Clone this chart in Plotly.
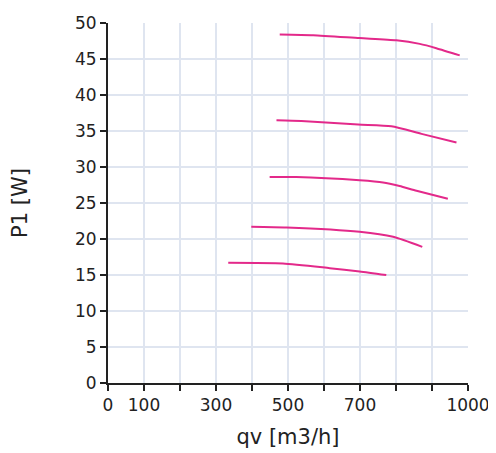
import plotly.graph_objects as go

# Curves (qv [m3/h], P1 [W])
c1_x = [477, 570, 699, 801, 866, 912, 977]
c1_y = [48.4, 48.3, 47.9, 47.6, 47.1, 46.5, 45.5]
c2_x = [468, 537, 695, 787, 871, 968]
c2_y = [36.5, 36.4, 35.9, 35.65, 34.6, 33.4]
c3_x = [449, 523, 699, 764, 810, 857, 944]
c3_y = [28.6, 28.6, 28.15, 27.85, 27.35, 26.7, 25.6]
c4_x = [398, 496, 699, 792, 873]
c4_y = [21.7, 21.6, 21.0, 20.3, 18.9]
c5_x = [334, 486, 616, 699, 773]
c5_y = [16.7, 16.6, 15.95, 15.5, 15.0]

x_tickvals = [0, 100, 200, 300, 400, 500, 600, 700, 800, 900, 1000]
x_ticktext = ["0", "100", "", "300", "", "500", "", "700", "", "", "1000"]
y_tickvals = [0, 5, 10, 15, 20, 25, 30, 35, 40, 45, 50]

color = "#e3298a"
fig = go.Figure()
for xs, ys in [(c1_x, c1_y), (c2_x, c2_y), (c3_x, c3_y), (c4_x, c4_y), (c5_x, c5_y)]:
    fig.add_trace(go.Scatter(x=xs, y=ys, mode="lines",
                             line=dict(color=color, width=2, shape="spline", smoothing=0.6),
                             showlegend=False, hoverinfo="skip"))

tick_font = dict(family="DejaVu Sans, sans-serif", size=17, color="#222222")
title_font = dict(family="DejaVu Sans, sans-serif", size=21, color="#222222")
fig.update_layout(
    width=496, height=453,
    margin=dict(l=100, r=36, t=15, b=78),
    paper_bgcolor="white", plot_bgcolor="white",
    font=tick_font,
    xaxis=dict(range=[0, 1000], tickvals=x_tickvals, ticktext=x_ticktext,
               tickfont=tick_font,
               showgrid=True, gridcolor="#dfe5f0", gridwidth=1.5,
               showline=True, linecolor="#222222", linewidth=2,
               ticks="outside", ticklen=6, tickwidth=1.5, tickcolor="#222222",
               zeroline=False, automargin=False,
               title=dict(text="qv [m3/h]", standoff=15, font=title_font)),
    yaxis=dict(range=[0, 50], tickvals=y_tickvals,
               tickfont=tick_font,
               showgrid=True, gridcolor="#dfe5f0", gridwidth=1.5,
               showline=True, linecolor="#222222", linewidth=2,
               ticks="outside", ticklen=6, tickwidth=1.5, tickcolor="#222222",
               zeroline=False, automargin=False,
               title=dict(text="P1 [W]", standoff=48, font=title_font)),
)
fig.write_html("out.html")
